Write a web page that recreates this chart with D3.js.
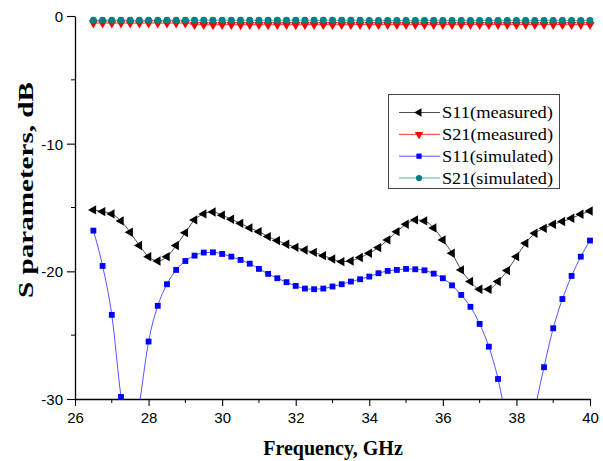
<!DOCTYPE html>
<html>
<head>
<meta charset="utf-8">
<script src="https://cdn.jsdelivr.net/npm/d3@7"></script>
<style>
  body { margin: 0; background: #fff; }
  svg { display: block; }
</style>
</head>
<body>
<div id="chart"></div>
<script>
// Frequency points, GHz
const freq = [26.5, 26.75, 27, 27.25, 27.5, 27.75, 28, 28.25, 28.5, 28.75,
  29, 29.25, 29.5, 29.75, 30, 30.25, 30.5, 30.75, 31, 31.25,
  31.5, 31.75, 32, 32.25, 32.5, 32.75, 33, 33.25, 33.5, 33.75,
  34, 34.25, 34.5, 34.75, 35, 35.25, 35.5, 35.75, 36, 36.25,
  36.5, 36.75, 37, 37.25, 37.5, 37.75, 38, 38.25, 38.5, 38.75,
  39, 39.25, 39.5, 39.75, 40];

const s11Measured = [-15.19, -15.32, -15.5, -16.05, -16.94, -17.98, -18.85, -19.19, -18.85, -17.98,
  -16.97, -15.97, -15.5, -15.35, -15.6, -15.92, -16.24, -16.6, -16.89, -17.28,
  -17.59, -17.88, -18.12, -18.33, -18.51, -18.77, -19.03, -19.24, -19.19, -18.92,
  -18.58, -18.14, -17.54, -16.89, -16.31, -15.97, -16.05, -16.6, -17.54, -18.58,
  -19.89, -20.8, -21.4, -21.4, -20.8, -19.94, -18.85, -17.8, -17.02, -16.63,
  -16.31, -16.1, -15.84, -15.53, -15.27];

const s21Measured = [-0.55, -0.55, -0.56, -0.55, -0.55, -0.56, -0.55, -0.55, -0.56, -0.55,
  -0.56, -0.68, -0.68, -0.69, -0.68, -0.68, -0.69, -0.68, -0.68, -0.69,
  -0.68, -0.68, -0.69, -0.68, -0.68, -0.68, -0.69, -0.68, -0.68, -0.67,
  -0.68, -0.68, -0.67, -0.68, -0.68, -0.67, -0.68, -0.68, -0.67, -0.68,
  -0.68, -0.67, -0.68, -0.68, -0.67, -0.68, -0.68, -0.67, -0.68, -0.68,
  -0.67, -0.68, -0.68, -0.67, -0.68];

const s11Simulated = [-16.81, -19.58, -23.41, -29.84, -34.5, -30.4, -25.5, -22.7, -21.01, -19.89,
  -19.19, -18.77, -18.53, -18.51, -18.64, -18.85, -19.11, -19.4, -19.81, -20.2,
  -20.54, -20.85, -21.14, -21.35, -21.4, -21.35, -21.19, -21.01, -20.8, -20.62,
  -20.41, -20.15, -19.97, -19.89, -19.81, -19.84, -19.92, -20.18, -20.54, -21.1,
  -21.85, -22.78, -24.12, -25.9, -28.43, -32.0, -35.5, -36.0, -31.0, -27.51,
  -24.46, -22.17, -20.36, -18.85, -17.59];

const s21Simulated = [-0.33, -0.33, -0.33, -0.33, -0.33, -0.33, -0.33, -0.33, -0.33, -0.33,
  -0.33, -0.33, -0.33, -0.33, -0.33, -0.34, -0.34, -0.34, -0.34, -0.34,
  -0.34, -0.34, -0.34, -0.34, -0.34, -0.34, -0.34, -0.34, -0.34, -0.34,
  -0.35, -0.35, -0.35, -0.35, -0.35, -0.35, -0.35, -0.35, -0.35, -0.35,
  -0.35, -0.35, -0.35, -0.35, -0.35, -0.35, -0.35, -0.35, -0.35, -0.35,
  -0.35, -0.35, -0.35, -0.35, -0.35];

const seriesNames = ['S11(measured)', 'S21(measured)', 'S11(simulated)', 'S21(simulated)'];
const xTicks = [26, 28, 30, 32, 34, 36, 38, 40];
const xMinorTicks = [27, 29, 31, 33, 35, 37, 39];
const yTicks = [-30, -20, -10, 0];
const yMinorTicks = [-25, -15, -5];

// series styles
const series = [
  { name: seriesNames[0], values: s11Measured, color: '#000', line: '#222', sym: d3.symbolTriangle, rot: -90, size: 38 },
  { name: seriesNames[1], values: s21Measured, color: '#ff0000', line: '#ff0000', sym: d3.symbolTriangle, rot: 180, size: 38 },
  { name: seriesNames[2], values: s11Simulated, color: '#0000ff', line: '#2a2aff', sym: d3.symbolSquare, rot: 0, size: 34 },
  { name: seriesNames[3], values: s21Simulated, color: '#008080', line: '#2a9a9a', sym: d3.symbolCircle, rot: 0, size: 38 }
];

const W = 603, H = 461;
const margin = { top: 16, right: 13, bottom: 62, left: 75 };
const width = W - margin.left - margin.right;
const height = H - margin.top - margin.bottom;

const x = d3.scaleLinear().domain([26, 40]).range([0, width]);
const y = d3.scaleLinear().domain([-30, 0]).range([height, 0]);

const svg = d3.select('#chart').append('svg')
  .attr('width', W)
  .attr('height', H);

const g = svg.append('g')
  .attr('transform', 'translate(' + margin.left + ',' + margin.top + ')');

g.append('clipPath').attr('id', 'plot-clip')
  .append('rect')
  .attr('width', width)
  .attr('height', height);

// axes
const tickFont = '"Liberation Sans", Arial, sans-serif';

const xAxis = g.append('g')
  .attr('transform', 'translate(0,' + height + ')')
  .call(d3.axisBottom(x).tickValues(xTicks).tickFormat(d => String(d)).tickSize(7).tickSizeOuter(0).tickPadding(6));

xAxis.selectAll('line.minor').data(xMinorTicks).enter()
  .append('line').attr('class', 'minor')
  .attr('x1', d => x(d)).attr('x2', d => x(d))
  .attr('y1', 0).attr('y2', 4)
  .attr('stroke', '#000');

const yAxis = g.append('g')
  .call(d3.axisLeft(y).tickValues(yTicks).tickFormat(d => String(d)).tickSize(8).tickSizeOuter(0).tickPadding(4));

yAxis.selectAll('line.minor').data(yMinorTicks).enter()
  .append('line').attr('class', 'minor')
  .attr('x1', 0).attr('x2', -4)
  .attr('y1', d => y(d)).attr('y2', d => y(d))
  .attr('stroke', '#000');

g.selectAll('.domain').attr('stroke', '#000').attr('stroke-width', 1.3);
g.selectAll('.tick line').attr('stroke', '#000').attr('stroke-width', 1.1);
svg.selectAll('text').style('font-family', tickFont).style('font-size', '15px').attr('fill', '#000');
yAxis.selectAll('.tick text').attr('dy', '0.36em');

// axis titles
svg.append('text')
  .attr('x', 333)
  .attr('y', 455)
  .attr('text-anchor', 'middle')
  .style('font-family', '"Liberation Serif", "Times New Roman", serif')
  .style('font-weight', 'bold')
  .style('font-size', '20px')
  .text('Frequency, GHz');

svg.append('text')
  .attr('transform', 'translate(33,190) rotate(-90)')
  .attr('text-anchor', 'middle')
  .attr('textLength', 216)
  .attr('lengthAdjust', 'spacingAndGlyphs')
  .style('font-family', '"Liberation Serif", "Times New Roman", serif')
  .style('font-weight', 'bold')
  .style('font-size', '21px')
  .text('S parameters, dB');

// lines + markers
const line = d3.line()
  .x(d => x(d.f))
  .y(d => y(d.v))
  .curve(d3.curveMonotoneX);

const plot = g.append('g');

series.forEach(s => {
  const pts = freq.map((f, i) => ({ f: f, v: s.values[i] }));
  plot.append('path')
    .datum(pts)
    .attr('clip-path', 'url(#plot-clip)')
    .attr('fill', 'none')
    .attr('stroke', s.line)
    .attr('stroke-width', 0.8)
    .attr('d', line);

  plot.append('g').selectAll('path')
    .data(pts.filter(d => d.v >= -30))
    .enter().append('path')
    .attr('transform', d => 'translate(' + x(d.f) + ',' + y(d.v) + ') rotate(' + s.rot + ')')
    .attr('d', d3.symbol().type(s.sym).size(s.size))
    .attr('fill', s.color);
});

// legend
const legend = svg.append('g');
legend.append('rect')
  .attr('x', 388.5).attr('y', 94.5)
  .attr('width', 171).attr('height', 94)
  .attr('fill', '#fff')
  .attr('stroke', '#444')
  .attr('stroke-width', 1);

const legendY = d3.scaleLinear().domain([0, 3]).range([112.5, 178]);

series.forEach((s, i) => {
  const ly = legendY(i);
  legend.append('line')
    .attr('x1', 399).attr('x2', 440)
    .attr('y1', ly).attr('y2', ly)
    .attr('stroke', s.line)
    .attr('stroke-width', 0.8);
  legend.append('path')
    .attr('transform', 'translate(419,' + ly + ') rotate(' + s.rot + ')')
    .attr('d', d3.symbol().type(s.sym).size(s.size * 0.8))
    .attr('fill', s.color);
  legend.append('text')
    .attr('x', 442)
    .attr('y', ly)
    .attr('dy', '0.33em')
    .attr('textLength', 111)
    .attr('lengthAdjust', 'spacingAndGlyphs')
    .style('font-family', '"Liberation Serif", "Times New Roman", serif')
    .style('font-size', '17px')
    .attr('fill', '#000')
    .text(s.name);
});
</script>
</body>
</html>
